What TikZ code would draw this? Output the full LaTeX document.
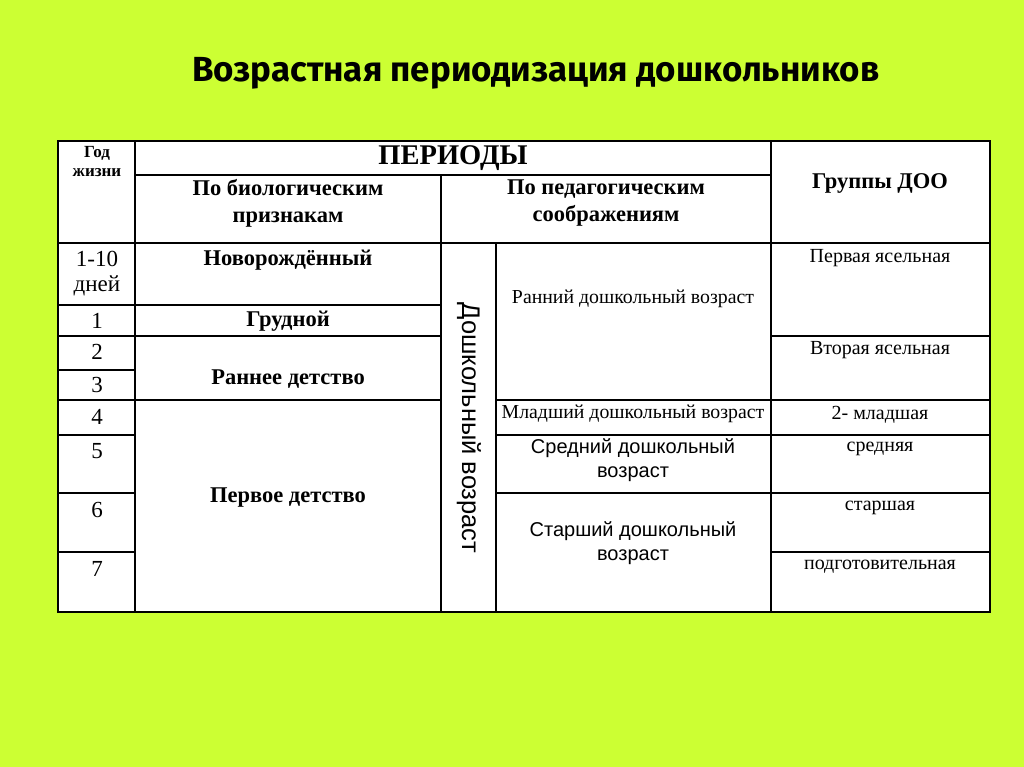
\documentclass[tikz,border=0pt]{standalone}
\usepackage{fontspec}
\setmainfont{Liberation Serif}
\setsansfont{Liberation Sans}
\newfontfamily\titlefont{Fira Sans}
\definecolor{bg}{HTML}{CCFF33}
\newcommand{\fsz}[2]{\fontsize{#1}{#2}\selectfont}
\tikzset{
  gridline/.style={line width=1.7pt, black},
  cell/.style={inner sep=0pt, align=center, text=black},
  hbold/.style={cell, font=\bfseries\fsz{22.5}{27}},
  num/.style={cell, font=\fsz{23}{25}},
  grp/.style={cell, font=\fsz{20}{22}},
  ped/.style={cell, font=\fsz{19.8}{22}},
  pedsans/.style={cell, font=\sffamily\fsz{20}{24}},
}
\begin{document}
\begin{tikzpicture}[x=1pt,y=-1pt]
\fill[bg] (0,0) rectangle (1024,767);
\useasboundingbox (0,0) rectangle (1024,767);
% title
\node[cell] (title) at (536,73) {\resizebox{687pt}{!}{\titlefont\bfseries Возрастная периодизация дошкольников}};
% table
\fill[white] (58,141) rectangle (990,612);
\draw[gridline] (58,141) rectangle (990,612);
\draw[gridline] (135,141) -- (135,612);
\draw[gridline] (771,141) -- (771,612);
\draw[gridline] (441,175) -- (441,612);
\draw[gridline] (496,243) -- (496,612);
\draw[gridline] (135,175) -- (771,175);
\draw[gridline] (58,243) -- (990,243);
\draw[gridline] (58,305) -- (441,305);
\draw[gridline] (58,336) -- (441,336);
\draw[gridline] (771,336) -- (990,336);
\draw[gridline] (58,370) -- (135,370);
\draw[gridline] (58,400) -- (441,400);
\draw[gridline] (496,400) -- (990,400);
\draw[gridline] (58,435) -- (135,435);
\draw[gridline] (496,435) -- (990,435);
\draw[gridline] (58,493) -- (135,493);
\draw[gridline] (496,493) -- (990,493);
\draw[gridline] (58,552) -- (135,552);
\draw[gridline] (771,552) -- (990,552);
% header
\node[cell, font=\bfseries\fsz{17}{19}] (god) at (97,162) {Год\\жизни};
\node[cell, font=\bfseries\fsz{28.5}{30}] (periods) at (453,158) {ПЕРИОДЫ};
\node[hbold] (bio) at (288,203) {По биологическим\\признакам};
\node[hbold] (pedh) at (606,203) {По педагогическим\\соображениям};
\node[hbold] (groups) at (880,183) {Группы ДОО};
% column 1
\node[num] (r0) at (97,274) {1-10\\дней};
\node[num] (r1) at (97,321) {1};
\node[num] (r2) at (97,352) {2};
\node[num] (r3) at (97,385) {3};
\node[num] (r4) at (97,417) {4};
\node[num] (r5) at (97,451) {5};
\node[num] (r6) at (97,510) {6};
\node[num] (r7) at (97,569) {7};
% biological
\node[hbold] (newborn) at (288,260) {Новорождённый};
\node[hbold] (infant) at (288,321) {Грудной};
\node[hbold] (early) at (288,379) {Раннее детство};
\node[hbold] (first) at (288,498) {Первое детство};
% vertical
\node[cell, font=\sffamily\fsz{25.5}{28}, rotate=-90] (preschool) at (469,428) {Дошкольный возраст};
% pedagogical
\node[ped] (p1) at (633,299) {Ранний дошкольный возраст};
\node[ped] (p2) at (633,414) {Младший дошкольный возраст};
\node[pedsans] (p3) at (633,460) {Средний дошкольный\\возраст};
\node[pedsans] (p4) at (633,543) {Старший дошкольный\\возраст};
% groups
\node[grp] (g1) at (880,258) {Первая ясельная};
\node[grp] (g2) at (880,350) {Вторая ясельная};
\node[grp] (g3) at (880,415) {2- младшая};
\node[grp] (g4) at (880,449) {средняя};
\node[grp] (g5) at (880,508) {старшая};
\node[grp] (g6) at (880,567) {подготовительная};
\end{tikzpicture}
\end{document}
